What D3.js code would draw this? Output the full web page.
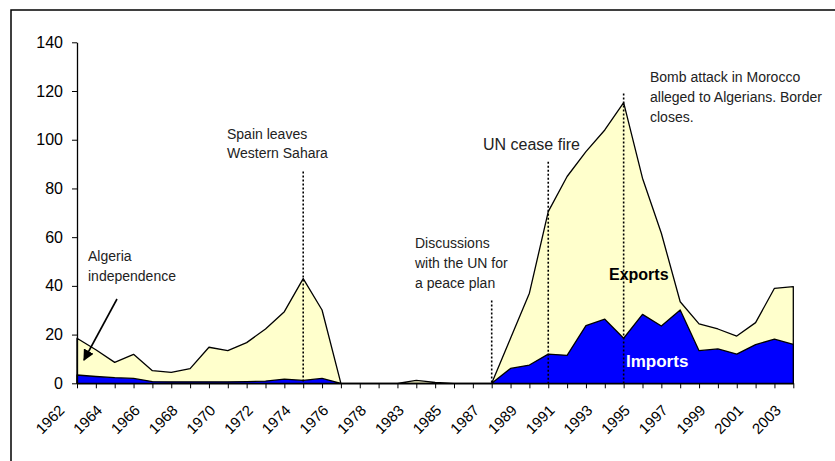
<!DOCTYPE html>
<html>
<head>
<meta charset="utf-8">
<script src="https://cdn.jsdelivr.net/npm/d3@7"></script>
<style>
  html, body { margin: 0; padding: 0; background: #fff; }
  svg { display: block; font-family: "Liberation Sans", Arial, sans-serif; }
</style>
</head>
<body>
<svg id="chart" width="835" height="461"></svg>
<script>
// ---- Data ----
const years = ["1962","1963","1964","1965","1966","1967","1968","1969","1970","1971",
  "1972","1973","1974","1975","1976","1977","1978","1982","1983","1984",
  "1985","1986","1987","1988","1989","1990","1991","1992","1993","1994",
  "1995","1996","1997","1998","1999","2000","2001","2002","2003"];
const exportsVals = [18.5, 13.8, 8.6, 11.9, 5.2, 4.5, 6.0, 14.8, 13.4, 16.7,
  22.3, 29.4, 43.0, 30.1, 0, 0, 0, 0, 1.2, 0.4,
  0, 0, 0, 18.5, 37.0, 70.5, 84.9, 95.1, 104.0, 115.2,
  84.2, 61.6, 33.5, 24.4, 22.3, 19.4, 24.9, 39.0, 39.7];
const importsVals = [3.4, 2.8, 2.3, 2.0, 0.7, 0.6, 0.6, 0.6, 0.6, 0.7,
  0.9, 1.7, 1.2, 2.0, 0, 0, 0, 0, 0, 0,
  0, 0, 0, 6.1, 7.5, 12.0, 11.5, 23.7, 26.3, 18.5,
  28.3, 23.5, 30.1, 13.4, 14.1, 12.0, 15.9, 18.1, 16.0];
const yTicks = [0, 20, 40, 60, 80, 100, 120, 140];
const events = [
  { year: "1974", top: 87,  lines: ["Spain leaves", "Western Sahara"] },
  { year: "1987", top: 34,  lines: ["Discussions", "with the UN for", "a peace plan"] },
  { year: "1990", top: 91,  lines: ["UN cease fire"] },
  { year: "1994", top: 119, lines: ["Bomb attack in Morocco", "alleged to Algerians. Border", "closes."] }
];

// ---- Layout ----
const svg = d3.select("#chart");
const pLeft = 77, pRight = 793.3, pTop = 42.3, pBottom = 383.3;

const x = d3.scalePoint().domain(years).range([pLeft, pRight]);
const y = d3.scaleLinear().domain([0, 140]).range([pBottom, pTop]);

// frame
svg.append("rect")
  .attr("x", 11).attr("y", 10).attr("width", 840).attr("height", 470)
  .attr("fill", "none").attr("stroke", "#000").attr("stroke-width", 1.5);

// areas
const area = d3.area().x((d, i) => x(years[i])).y0(y(0)).y1(d => y(d));

svg.append("path")
  .attr("d", area(exportsVals) + "Z")
  .attr("fill", "#FFFFCC").attr("stroke", "#000").attr("stroke-width", 1.3)
  .attr("stroke-linejoin", "round");

svg.append("path")
  .attr("d", area(importsVals) + "Z")
  .attr("fill", "#0000FF").attr("stroke", "#000").attr("stroke-width", 1.3)
  .attr("stroke-linejoin", "round");

// event dotted lines
svg.append("g").selectAll("line").data(events).join("line")
  .attr("x1", d => x(d.year)).attr("x2", d => x(d.year))
  .attr("y1", d => y(d.top)).attr("y2", y(0))
  .attr("stroke", "#000").attr("stroke-width", 1.6)
  .attr("stroke-dasharray", "2,2");

// axes
const xAxis = d3.axisBottom(x)
  .tickSize(5).tickSizeOuter(0)
  .tickFormat((d, i) => (i % 2 === 0 ? d : ""));
const gx = svg.append("g").attr("transform", `translate(0,${pBottom})`).call(xAxis);
gx.select(".domain").attr("stroke", "#000").attr("stroke-width", 1.3);
gx.selectAll(".tick line").attr("stroke", "#000").attr("stroke-width", 1);
gx.selectAll(".tick text")
  .attr("x", 0).attr("y", 0).attr("dy", 0)
  .attr("text-anchor", "end")
  .attr("transform", "translate(-12,28) rotate(-45)")
  .attr("font-size", 15).attr("fill", "#000")
  .attr("font-family", "'Liberation Sans', Arial, sans-serif");

const yAxis = d3.axisLeft(y).tickValues(yTicks).tickSize(5).tickSizeOuter(0).tickPadding(9);
const gy = svg.append("g").attr("transform", `translate(${pLeft},0)`).call(yAxis);
gy.select(".domain").attr("stroke", "#000").attr("stroke-width", 1.3);
gy.selectAll(".tick line").attr("stroke", "#000").attr("stroke-width", 1);
gy.selectAll(".tick text")
  .attr("font-size", 16).attr("fill", "#000")
  .attr("font-family", "'Liberation Sans', Arial, sans-serif");

// annotations
function multiline(xp, yp, lines, size, lh, opts = {}) {
  const t = svg.append("text").attr("x", xp).attr("y", yp)
    .attr("font-size", size).attr("fill", opts.fill || "#222")
    .attr("font-weight", opts.weight || "normal");
  lines.forEach((l, i) => t.append("tspan").attr("x", xp).attr("dy", i === 0 ? 0 : lh).text(l));
  return t;
}
multiline(227, 139.3, events[0].lines, 14, 19);
multiline(415, 248.3, events[1].lines, 14, 19.7);
multiline(483, 150, events[2].lines, 16, 19);
multiline(650, 81.7, events[3].lines, 14, 20);
multiline(88, 260.7, ["Algeria", "independence"], 14, 20);

multiline(609, 280, ["Exports"], 16, 0, { fill: "#000", weight: "bold" });
multiline(626, 366.7, ["Imports"], 17, 0, { fill: "#fff", weight: "bold" });

// arrow for Algeria independence
const defs = svg.append("defs");
defs.append("marker").attr("id", "arr").attr("viewBox", "0 0 10 10")
  .attr("refX", 9).attr("refY", 5).attr("markerWidth", 7).attr("markerHeight", 7)
  .attr("orient", "auto-start-reverse")
  .append("path").attr("d", "M0,0 L10,5 L0,10 Z").attr("fill", "#000");
svg.append("line")
  .attr("x1", 117).attr("y1", 299).attr("x2", 84).attr("y2", 360)
  .attr("stroke", "#000").attr("stroke-width", 1.6)
  .attr("marker-end", "url(#arr)");
</script>
</body>
</html>
